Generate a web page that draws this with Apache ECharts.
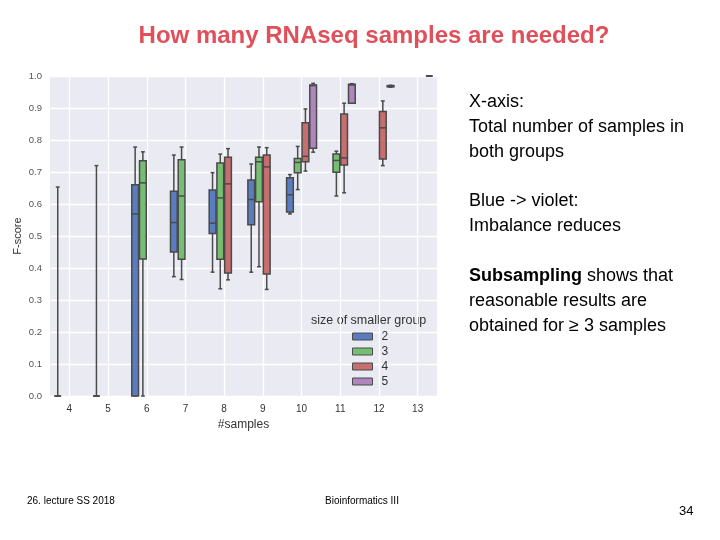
<!DOCTYPE html>
<html>
<head>
<meta charset="utf-8">
<script src="https://cdn.jsdelivr.net/npm/echarts@6/dist/echarts.min.js"></script>
<style>
  html, body { margin: 0; padding: 0; background: #fff; }
  #main { width: 720px; height: 540px; }
</style>
</head>
<body>
<div id="main"></div>
<script>
// #samples (total in both groups)
const samples = ['4', '5', '6', '7', '8', '9', '10', '11', '12', '13'];
const groupSizes = ['2', '3', '4', '5'];

// [min, Q1, median, Q3, max] per #samples, one list per size of smaller group
const size2 = [
  [0, 0, 0, 0, 0.653],
  [0, 0, 0, 0, 0.72],
  [0, 0, 0.569, 0.66, 0.778],
  [0.373, 0.45, 0.542, 0.64, 0.753],
  [0.387, 0.508, 0.54, 0.644, 0.698],
  [0.387, 0.535, 0.614, 0.675, 0.725],
  [0.569, 0.575, 0.629, 0.682, 0.692],
  '-', '-', '-'
];
const size3 = [
  '-', '-',
  [0, 0.428, 0.666, 0.735, 0.763],
  [0.364, 0.427, 0.625, 0.738, 0.778],
  [0.335, 0.427, 0.619, 0.728, 0.756],
  [0.404, 0.607, 0.732, 0.746, 0.778],
  [0.645, 0.698, 0.73, 0.742, 0.78],
  [0.625, 0.699, 0.736, 0.756, 0.765],
  '-', '-'
];
const size4 = [
  '-', '-', '-', '-',
  [0.363, 0.384, 0.663, 0.746, 0.773],
  [0.333, 0.381, 0.716, 0.753, 0.776],
  [0.703, 0.732, 0.749, 0.854, 0.897],
  [0.635, 0.722, 0.744, 0.881, 0.915],
  [0.72, 0.741, 0.838, 0.889, 0.922],
  '-'
];
const size5 = [
  '-', '-', '-', '-', '-', '-',
  [0.762, 0.774, 0.97, 0.972, 0.977],
  [0.915, 0.915, 0.972, 0.974, 0.976],
  [0.965, 0.966, 0.968, 0.97, 0.971],
  [1.0, 1.0, 1.0, 1.0, 1.0]
];

const colors = ['#597DBE', '#76BF72', '#C76E6E', '#AF85BD'];
const edge = '#4a4a4a';
const font = '"Liberation Sans", Arial, sans-serif';

// half-step positions, used only to put vertical grid lines on category centres
const halfSteps = [];
for (let i = 0; i <= samples.length * 2; i++) halfSteps.push(String(i));

const chart = echarts.init(document.getElementById('main'));

// seaborn-like box: hue boxes take 0.2 of the band each, caps are half the box width
function boxRenderer(hue) {
  return function (params, api) {
    const x = api.value(0);
    const band = api.size([1, 0])[0];
    const w = 0.2 * band;
    const off = (hue - 1.5) * w;
    const pt = (dim) => api.coord([x, api.value(dim)]);
    const pMin = pt(1), pQ1 = pt(2), pMed = pt(3), pQ3 = pt(4), pMax = pt(5);
    const cx = pMin[0] + off;
    const line = { stroke: edge, lineWidth: 1.5 };
    const seg = (x1, y1, x2, y2) => ({ type: 'line', shape: { x1, y1, x2, y2 }, style: line });
    const cap = w / 4;
    return {
      type: 'group',
      children: [
        seg(cx, pQ3[1], cx, pMax[1]),
        seg(cx, pQ1[1], cx, pMin[1]),
        seg(cx - cap, pMax[1], cx + cap, pMax[1]),
        seg(cx - cap, pMin[1], cx + cap, pMin[1]),
        {
          type: 'rect',
          shape: { x: cx - w / 2 + 0.5, y: pQ3[1], width: w - 1, height: pQ1[1] - pQ3[1] },
          style: { fill: colors[hue], stroke: edge, lineWidth: 1.5 }
        },
        seg(cx - w / 2 + 0.5, pMed[1], cx + w / 2 - 0.5, pMed[1])
      ]
    };
  };
}

const series = [size2, size3, size4, size5].map((d, i) => ({
  name: groupSizes[i],
  type: 'custom',
  renderItem: boxRenderer(i),
  data: d.map((v, j) => (v === '-' ? null : [j].concat(v))).filter(Boolean),
  encode: { x: 0, y: [1, 2, 3, 4, 5] },
  itemStyle: { color: colors[i] },
  clip: false,
  silent: true
}));

chart.setOption({
  animation: false,
  textStyle: { fontFamily: font },
  title: {
    text: 'How many RNAseq samples are needed?',
    left: 369, top: 19, textAlign: 'center',
    textStyle: { color: '#e0505a', fontSize: 24, fontWeight: 'bold', fontFamily: font }
  },
  grid: { left: 50, right: 283, top: 76, bottom: 144, backgroundColor: '#EAEAF2', show: true, borderWidth: 0 },
  legend: {
    data: groupSizes.map((g, i) => ({
      name: g,
      itemStyle: { color: colors[i], borderColor: edge, borderWidth: 1 }
    })),
    orient: 'vertical',
    left: 352, top: 330,
    padding: 0,
    itemWidth: 20, itemHeight: 7, itemGap: 2,
    icon: 'rect',
    textStyle: { color: '#333', fontSize: 12, lineHeight: 13, padding: [0, 0, 0, 4] },
    selectedMode: false
  },
  xAxis: [{
    type: 'category',
    data: samples,
    name: '#samples',
    nameLocation: 'middle',
    nameGap: 23,
    nameTextStyle: { color: '#333', fontSize: 12 },
    axisLine: { show: false },
    axisTick: { show: false },
    axisLabel: { color: '#333', fontSize: 10, margin: 8 },
    splitLine: { show: false }
  }, {
    type: 'category',
    data: halfSteps,
    boundaryGap: false,
    position: 'bottom',
    axisLine: { show: false },
    axisTick: { show: false },
    axisLabel: { show: false },
    splitLine: {
      show: true,
      interval: (idx) => idx % 2 === 1,
      lineStyle: { color: '#fff', width: 1.3 }
    }
  }],
  yAxis: {
    type: 'value',
    min: 0, max: 1, interval: 0.1,
    name: 'F-score',
    nameLocation: 'middle',
    nameGap: 27,
    nameMoveOverlap: false,
    nameTextStyle: { color: '#333', fontSize: 11 },
    axisLine: { show: false },
    axisTick: { show: false },
    axisLabel: { color: '#555', fontSize: 9.5, margin: 8, formatter: v => v.toFixed(1) },
    splitLine: { lineStyle: { color: '#fff', width: 1.3 } }
  },
  graphic: [
    {
      type: 'text', left: 311, top: 314,
      style: { text: 'size of smaller group', fill: '#333', fontSize: 12.5, fontFamily: font }
    },
    {
      type: 'text', left: 469, top: 90,
      style: {
        text: 'X-axis:\nTotal number of samples in\nboth groups',
        fill: '#000', fontSize: 18, lineHeight: 25, fontFamily: font
      }
    },
    {
      type: 'text', left: 469, top: 189,
      style: {
        text: 'Blue -> violet:\nImbalance reduces',
        fill: '#000', fontSize: 18, lineHeight: 25, fontFamily: font
      }
    },
    {
      type: 'text', left: 469, top: 264,
      style: {
        text: '{b|Subsampling} shows that\nreasonable results are\nobtained for \u2265 3 samples',
        fill: '#000', fontSize: 18, lineHeight: 25, fontFamily: font,
        rich: { b: { fontWeight: 'bold', fontSize: 18, fontFamily: font, lineHeight: 25 } }
      }
    },
    {
      type: 'text', left: 27, top: 496,
      style: { text: '26. lecture SS 2018', fill: '#000', fontSize: 10, fontFamily: font }
    },
    {
      type: 'text', left: 325, top: 496,
      style: { text: 'Bioinformatics III', fill: '#000', fontSize: 10, fontFamily: font }
    },
    {
      type: 'text', left: 679, top: 505,
      style: { text: '34', fill: '#000', fontSize: 13, fontFamily: font }
    }
  ],
  series
});
</script>
</body>
</html>
